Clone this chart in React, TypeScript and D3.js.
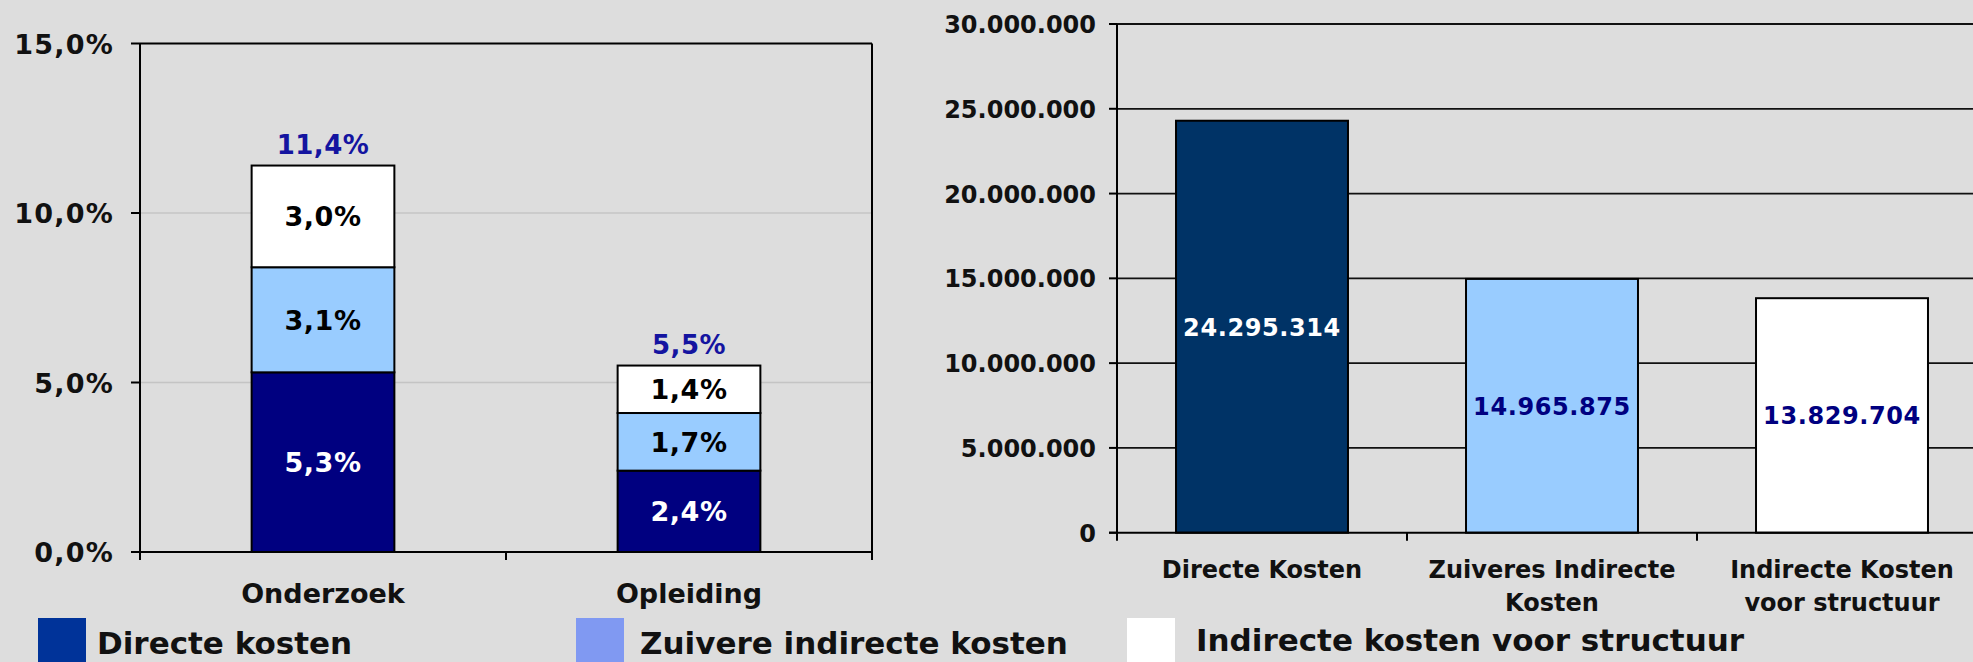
import React from "react"
import { scaleLinear, scaleBand, stack, formatLocale } from "d3"

// left chart: cost share per activity (percent)
const leftCategories = ["Onderzoek", "Opleiding"]
const seriesKeys = ["direct", "zuiver", "structuur"]
const directShare = [5.3, 2.4]
const zuiverShare = [3.1, 1.7]
const structuurShare = [3.0, 1.4]
const totalShare = [11.4, 5.5]
const leftTicks = [0, 5, 10, 15]

// right chart: absolute costs
const rightCategories = [
  ["Directe Kosten"],
  ["Zuiveres Indirecte", "Kosten"],
  ["Indirecte Kosten", "voor structuur"]
]
const rightValues = [24295314, 14965875, 13829704]
const rightTicks = [0, 5000000, 10000000, 15000000, 20000000, 25000000, 30000000]

const legendLabels = ["Directe kosten", "Zuivere indirecte kosten", "Indirecte kosten voor structuur"]

const nl = formatLocale({ decimal: ",", thousands: ".", grouping: [3], currency: ["€", ""] })
const fmtPct = (v: number) => nl.format(".1f")(v) + "%"
const fmtNum = nl.format(",d")

const FONT = "'DejaVu Sans', Verdana, sans-serif"
const BG = "#dddddd"

const segFill: Record<string, string> = { direct: "#000080", zuiver: "#99ccff", structuur: "#ffffff" }
const segText: Record<string, string> = { direct: "#ffffff", zuiver: "#000000", structuur: "#000000" }
const rightFill = ["#003366", "#99ccff", "#ffffff"]
const rightText = ["#ffffff", "#000080", "#000080"]
const legendFill = ["#003399", "#8099f2", "#ffffff"]

function LeftChart() {
  const y = scaleLinear().domain([0, 15]).range([552, 43.5])
  const x = scaleBand().domain(leftCategories).range([140, 872]).padding(0)
  const barW = x.bandwidth() * 0.39

  const rows = leftCategories.map((c, i) => ({
    cat: c,
    direct: directShare[i],
    zuiver: zuiverShare[i],
    structuur: structuurShare[i]
  }))
  const layers = stack<any>().keys(seriesKeys)(rows)

  return (
    <g fontFamily={FONT} fontWeight="bold">
      {leftTicks.filter(t => t > 0 && t < 15).map(t => (
        <line key={t} x1={140} x2={872} y1={y(t)} y2={y(t)} stroke="#c4c4c4" strokeWidth={1.5} />
      ))}
      <line x1={140} x2={872} y1={y(15)} y2={y(15)} stroke="#000" strokeWidth={2} />
      <line x1={872} x2={872} y1={y(15)} y2={y(0) + 8} stroke="#000" strokeWidth={2} />

      {layers.map(layer =>
        layer.map((d, i) => {
          const cx = (x(leftCategories[i]) as number) + x.bandwidth() / 2
          const y0 = y(d[0])
          const y1 = y(d[1])
          return (
            <g key={layer.key + i}>
              <rect x={cx - barW / 2} y={y1} width={barW} height={y0 - y1}
                fill={segFill[layer.key]} stroke="#000" strokeWidth={2} />
              <text x={cx} y={(y0 + y1) / 2 + 10} textAnchor="middle" fontSize={27}
                letterSpacing={0.5} fill={segText[layer.key]}>
                {fmtPct(d[1] - d[0])}
              </text>
            </g>
          )
        })
      )}

      {totalShare.map((v, i) => {
        const cx = (x(leftCategories[i]) as number) + x.bandwidth() / 2
        return (
          <text key={i} x={cx} y={y(v) - 12} textAnchor="middle" fontSize={26}
            letterSpacing={0.5} fill="#1414a0">
            {fmtPct(v)}
          </text>
        )
      })}

      <line x1={140} x2={140} y1={y(15)} y2={y(0) + 8} stroke="#000" strokeWidth={2} />
      <line x1={131} x2={872} y1={y(0)} y2={y(0)} stroke="#000" strokeWidth={2} />
      {leftTicks.map(t => (
        <g key={t}>
          <line x1={131} x2={140} y1={y(t)} y2={y(t)} stroke="#000" strokeWidth={2} />
          <text x={114} y={y(t) + 10} textAnchor="end" fontSize={27} letterSpacing={1.2} fill="#111">
            {fmtPct(t)}
          </text>
        </g>
      ))}
      {leftCategories.map((c, i) => (
        <g key={c}>
          {i > 0 && (
            <line x1={x(c)} x2={x(c)} y1={y(0)} y2={y(0) + 8} stroke="#000" strokeWidth={2} />
          )}
          <text x={(x(c) as number) + x.bandwidth() / 2} y={603} textAnchor="middle" fontSize={27} fill="#111">
            {c}
          </text>
        </g>
      ))}
    </g>
  )
}

function RightChart() {
  const y = scaleLinear().domain([0, 30000000]).range([532.7, 24])
  const keys = rightCategories.map(c => c.join(" "))
  const x = scaleBand().domain(keys).range([1117, 1987]).padding(0)
  const barW = x.bandwidth() * 0.593

  return (
    <g fontFamily={FONT} fontWeight="bold">
      {rightTicks.filter(t => t > 0).map(t => (
        <line key={t} x1={1117} x2={1987} y1={y(t)} y2={y(t)} stroke="#111" strokeWidth={1.8} />
      ))}

      {rightValues.map((v, i) => {
        const cx = (x(keys[i]) as number) + x.bandwidth() / 2
        return (
          <g key={i}>
            <rect x={cx - barW / 2} y={y(v)} width={barW} height={y(0) - y(v)}
              fill={rightFill[i]} stroke="#000" strokeWidth={2} />
            <text x={cx} y={(y(v) + y(0)) / 2 + 9} textAnchor="middle" fontSize={24}
              letterSpacing={0.6} fill={rightText[i]}>
              {fmtNum(v)}
            </text>
          </g>
        )
      })}

      <line x1={1117} x2={1117} y1={y(30000000)} y2={y(0) + 8} stroke="#000" strokeWidth={2} />
      <line x1={1109} x2={1987} y1={y(0)} y2={y(0)} stroke="#000" strokeWidth={2} />
      {rightTicks.map(t => (
        <g key={t}>
          <line x1={1109} x2={1117} y1={y(t)} y2={y(t)} stroke="#000" strokeWidth={2} />
          <text x={1096} y={y(t) + 9} textAnchor="end" fontSize={24} fill="#111">{fmtNum(t)}</text>
        </g>
      ))}
      {rightCategories.map((lines, i) => {
        const k = keys[i]
        const cx = (x(k) as number) + x.bandwidth() / 2
        return (
          <g key={k}>
            {i > 0 && (
              <line x1={x(k)} x2={x(k)} y1={y(0)} y2={y(0) + 8} stroke="#000" strokeWidth={2} />
            )}
            {lines.map((ln, j) => (
              <text key={j} x={cx} y={578 + j * 33} textAnchor="middle" fontSize={24} fill="#111">{ln}</text>
            ))}
          </g>
        )
      })}
    </g>
  )
}

function Legend() {
  const boxX = [38, 576, 1127]
  const textX = [97, 640, 1196]
  const baseY = [654, 654, 651]
  return (
    <g fontFamily={FONT} fontWeight="bold">
      {legendLabels.map((l, i) => (
        <g key={l}>
          <rect x={boxX[i]} y={618} width={48} height={50} fill={legendFill[i]} />
          <text x={textX[i]} y={baseY[i]} fontSize={31} fill="#111">{l}</text>
        </g>
      ))}
    </g>
  )
}

export default function App() {
  return (
    <svg width={1973} height={662} style={{ position: "absolute", left: 0, top: 0, display: "block" }}>
      <rect x={0} y={0} width={1973} height={662} fill={BG} />
      <LeftChart />
      <RightChart />
      <Legend />
    </svg>
  )
}
